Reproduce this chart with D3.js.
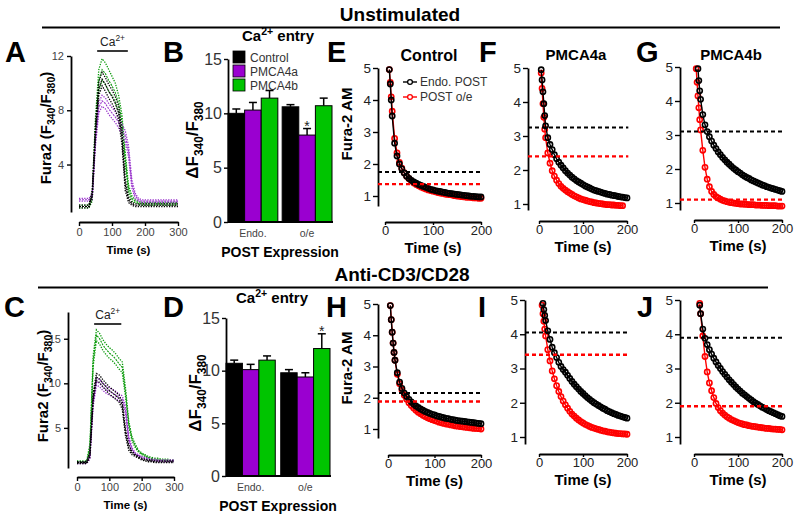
<!DOCTYPE html>
<html><head><meta charset="utf-8">
<script src="https://cdn.jsdelivr.net/npm/d3@7"></script>
<style>body{margin:0;background:#fff}svg{display:block}</style>
</head><body>
<svg id="c" width="800" height="524"></svg>
<script>
// ---------------- DATA ----------------
const traceTime = [0,10,20,30,40,50,60,70,80,90,100,110,120,130,140,150,160,170,180,190,200,210,220,230,240,250,260,270,280,290,300];
const traceTicksX = [0,100,200,300];
const seriesNames = ["Control","PMCA4a","PMCA4b"];
// Panel A (unstimulated) Fura2 ratio traces, mean and SEM
const ctrlA      = [0.9,0.9,0.9,0.9,1.8,6.5,9.6,10.3,9.9,9.4,9.0,8.5,7.8,6.0,2.5,1.4,1.1,1.0,1.0,1.0,1.0,1.0,1.0,1.0,1.0,1.0,1.0,1.0,1.0,1.0,1.0];
const ctrlASem   = [0.1,0.1,0.1,0.1,0.3,0.5,0.5,0.5,0.5,0.5,0.5,0.5,0.5,0.5,0.4,0.2,0.1,0.1,0.1,0.1,0.1,0.1,0.1,0.1,0.1,0.1,0.1,0.1,0.1,0.1,0.1];
const pmca4aA    = [1.4,1.4,1.4,1.4,1.6,5.8,8.2,8.7,8.5,8.1,7.8,7.5,7.1,6.6,6.1,5.0,2.6,1.7,1.4,1.3,1.3,1.3,1.3,1.3,1.3,1.3,1.3,1.3,1.3,1.3,1.3];
const pmca4aASem = [0.1,0.1,0.1,0.1,0.2,0.4,0.4,0.4,0.4,0.4,0.4,0.4,0.4,0.4,0.4,0.4,0.3,0.2,0.1,0.1,0.1,0.1,0.1,0.1,0.1,0.1,0.1,0.1,0.1,0.1,0.1];
const pmca4bA    = [0.9,0.9,0.9,0.9,1.6,6.8,10.2,11.0,10.7,10.2,9.8,9.3,8.5,7.2,4.5,2.2,1.5,1.3,1.2,1.1,1.1,1.1,1.1,1.1,1.1,1.1,1.1,1.1,1.1,1.1,1.1];
const pmca4bASem = [0.1,0.1,0.1,0.1,0.3,0.7,0.8,0.8,0.8,0.8,0.7,0.7,0.6,0.5,0.4,0.3,0.2,0.1,0.1,0.1,0.1,0.1,0.1,0.1,0.1,0.1,0.1,0.1,0.1,0.1,0.1];
// Panel C (anti-CD3/CD28)
const ctrlC      = [1.1,1.1,1.1,1.1,2.0,8.5,10.7,10.5,10.0,9.6,9.2,8.9,8.6,8.3,7.5,4.5,2.8,2.2,1.9,1.7,1.5,1.4,1.3,1.3,1.2,1.2,1.2,1.2,1.2,1.2,1.2];
const ctrlCSem   = [0.1,0.1,0.1,0.1,0.3,0.4,0.4,0.4,0.4,0.4,0.4,0.4,0.4,0.4,0.4,0.4,0.3,0.2,0.1,0.1,0.1,0.1,0.1,0.1,0.1,0.1,0.1,0.1,0.1,0.1,0.1];
const pmca4aC    = [1.1,1.1,1.1,1.1,1.8,7.8,10.2,10.0,9.6,9.3,9.1,8.9,8.7,8.4,8.2,7.0,3.8,2.6,2.1,1.9,1.7,1.6,1.5,1.4,1.4,1.3,1.3,1.3,1.3,1.3,1.3];
const pmca4aCSem = [0.1,0.1,0.1,0.1,0.3,0.4,0.4,0.4,0.4,0.4,0.4,0.4,0.4,0.4,0.4,0.4,0.3,0.2,0.1,0.1,0.1,0.1,0.1,0.1,0.1,0.1,0.1,0.1,0.1,0.1,0.1];
const pmca4bC    = [1.2,1.2,1.2,1.2,2.8,12.5,15.4,15.0,14.3,13.8,13.4,13.1,12.7,12.2,11.8,9.0,5.5,3.8,3.0,2.4,2.1,1.9,1.7,1.6,1.5,1.5,1.4,1.4,1.4,1.3,1.3];
const pmca4bCSem = [0.1,0.1,0.1,0.1,0.4,0.6,0.6,0.6,0.6,0.6,0.6,0.6,0.6,0.6,0.6,0.5,0.3,0.2,0.2,0.1,0.1,0.1,0.1,0.1,0.1,0.1,0.1,0.1,0.1,0.1,0.1];

// Panels B, D: Ca2+ entry bars
const barGroups = ["Endo.","o/e"];
const entryUnstim    = [[10.0,10.3,11.4],[10.6,8.0,10.7]];
const entryUnstimErr = [[0.4,0.7,0.7],[0.2,0.6,0.7]];
const entryUnstimSig = [["","",""],["","*",""]];
const entryStim      = [[10.7,10.1,11.0],[9.8,9.4,12.1]];
const entryStimErr   = [[0.3,0.5,0.4],[0.3,0.4,1.4]];
const entryStimSig   = [["","",""],["","","*"]];
const barTicks = [0,5,10,15];

// Panels E-J: Fura-2 AM decay
const decayTime = [5,7,9,11,13,15,20,25,30,35,40,45,50,55,60,65,70,75,80,85,90,95,100,105,110,115,120,125,130,135,140,145,150,155,160,165,170,175,180,185,190,195,200];
const decayTicksY = [1,2,3,4,5];
const decayTicksX = [0,100,200];
const eEndo = [null,null,4.95,4.5,4.0,3.5,2.65,2.25,2.0,1.85,1.72,1.62,1.55,1.49,1.44,1.4,1.36,1.33,1.3,1.27,1.24,1.21,1.19,1.17,1.15,1.14,1.12,1.11,1.09,1.08,1.07,1.06,1.05,1.04,1.03,1.02,1.01,1.0,0.99,0.99,0.98,0.97,0.97];
const eOe   = [null,null,4.95,4.55,4.1,3.65,2.8,2.35,2.05,1.87,1.73,1.62,1.54,1.47,1.41,1.36,1.32,1.28,1.25,1.22,1.19,1.17,1.15,1.13,1.11,1.09,1.08,1.06,1.05,1.04,1.03,1.01,1.0,0.99,0.98,0.97,0.96,0.96,0.95,0.94,0.94,0.93,0.93];
const fEndo = [4.95,4.65,4.3,3.95,3.6,3.3,2.95,2.75,2.6,2.45,2.33,2.23,2.14,2.06,1.98,1.91,1.85,1.79,1.74,1.69,1.65,1.61,1.57,1.53,1.5,1.47,1.44,1.41,1.39,1.37,1.35,1.33,1.31,1.29,1.28,1.26,1.25,1.24,1.22,1.21,1.2,1.19,1.18];
const fOe   = [4.85,4.4,3.95,3.55,3.2,2.95,2.5,2.2,1.98,1.82,1.7,1.6,1.52,1.46,1.41,1.36,1.32,1.28,1.24,1.21,1.18,1.15,1.13,1.11,1.09,1.07,1.06,1.04,1.03,1.02,1.01,1.0,0.99,0.98,0.98,0.97,0.97,0.96,0.96,0.95,0.95,null,null];
const gEndo = [null,null,4.95,4.6,4.3,4.05,3.6,3.3,3.1,2.95,2.82,2.7,2.6,2.5,2.42,2.34,2.27,2.2,2.14,2.08,2.02,1.97,1.92,1.88,1.83,1.79,1.75,1.72,1.68,1.65,1.62,1.59,1.56,1.53,1.51,1.48,1.46,1.44,1.42,1.4,1.38,1.36,1.34];
const gOe   = [4.95,4.55,4.15,3.8,3.45,3.15,2.55,2.05,1.7,1.48,1.34,1.25,1.19,1.15,1.11,1.08,1.06,1.04,1.02,1.01,1.0,0.99,0.98,0.97,0.97,0.96,0.96,0.95,0.95,0.95,0.94,0.94,0.94,0.93,0.93,0.93,0.92,0.92,0.92,0.92,0.91,0.91,0.91];
const hEndo = [4.95,4.5,4.1,3.75,3.45,3.2,2.8,2.5,2.3,2.15,2.04,1.95,1.87,1.8,1.74,1.69,1.64,1.6,1.56,1.53,1.5,1.47,1.45,1.42,1.4,1.38,1.36,1.34,1.33,1.31,1.3,1.28,1.27,1.26,1.25,1.24,1.23,1.22,1.21,1.2,1.19,1.18,1.17];
const hOe   = [4.95,4.5,4.1,3.75,3.45,3.2,2.75,2.45,2.25,2.08,1.95,1.84,1.75,1.67,1.6,1.54,1.49,1.44,1.4,1.36,1.33,1.3,1.27,1.25,1.22,1.2,1.18,1.16,1.15,1.13,1.12,1.1,1.09,1.08,1.07,1.06,1.05,1.04,1.03,1.02,1.02,1.01,1.0];
const iEndo = [null,null,4.9,4.72,4.55,4.4,4.1,3.85,3.62,3.46,3.32,3.18,3.06,2.97,2.89,2.8,2.71,2.62,2.54,2.47,2.4,2.33,2.27,2.21,2.15,2.1,2.05,2.0,1.96,1.92,1.88,1.84,1.81,1.77,1.74,1.71,1.68,1.66,1.63,1.61,1.59,1.57,1.55];
const iOe   = [null,4.85,4.6,4.38,4.15,3.95,3.55,3.22,2.93,2.7,2.5,2.33,2.18,2.05,1.94,1.84,1.75,1.67,1.61,1.55,1.5,1.45,1.41,1.37,1.34,1.31,1.28,1.26,1.24,1.22,1.2,1.18,1.17,1.15,1.14,1.13,1.12,1.11,1.1,1.1,1.09,1.09,1.08];
const jEndo = [null,null,null,null,4.85,4.6,4.15,3.88,3.7,3.55,3.42,3.3,3.19,3.09,3.0,2.91,2.83,2.75,2.67,2.6,2.53,2.46,2.4,2.34,2.28,2.23,2.18,2.13,2.08,2.03,1.99,1.95,1.91,1.87,1.84,1.8,1.77,1.74,1.71,1.68,1.65,1.62,1.6];
const jOe   = [null,null,null,null,4.9,4.6,3.95,3.35,2.9,2.58,2.35,2.15,1.98,1.86,1.77,1.7,1.64,1.59,1.55,1.51,1.48,1.45,1.42,1.4,1.38,1.36,1.35,1.33,1.32,1.31,1.3,1.29,1.28,1.27,1.26,1.25,1.25,1.24,1.23,1.23,1.22,1.22,1.21];
// plateau (dashed) levels: [Endo. POST, POST o/e]
const plateauE = [1.75,1.37], plateauF = [3.25,2.4], plateauG = [3.1,1.1];
const plateauH = [2.15,1.88], plateauI = [4.05,3.4], plateauJ = [3.9,1.9];
const decayLegend = ["Endo. POST","POST o/e"];

// ---------------- DRAWING ----------------
const FONT = "'Liberation Sans', Arial, Helvetica, sans-serif";
const svg = d3.select("#c").attr("font-family", FONT);
const COL = {Control:"#000000", PMCA4a:"#9a00d0", PMCA4b:"#00c400"};
const LINECOL = {Control:"#000000", PMCA4a:"#9933cc", PMCA4b:"#0a9a0a"};

function rich(sel, parts, size) {
  parts.forEach(p => {
    const t = sel.append("tspan").text(p[0]);
    if (p[1] === "sub") t.attr("font-size", size*0.7).attr("dy", size*0.28);
    else if (p[1] === "sup") t.attr("font-size", size*0.7).attr("dy", -size*0.4);
    else if (p[1] === "base") t.attr("dy", p[2]);
  });
  return sel;
}
function styleAxis(g, color, size) {
  g.selectAll("path.domain").attr("stroke","#000").attr("stroke-width",1.8);
  g.selectAll(".tick line").attr("stroke","#000").attr("stroke-width",1.4);
  g.selectAll(".tick text").attr("fill",color).attr("font-size",size).attr("font-family",FONT);
}
function txt(x,y,s,size,opt={}) {
  return svg.append("text").attr("x",x).attr("y",y).text(s)
    .attr("font-size",size).attr("font-weight",opt.bold?"bold":"normal")
    .attr("text-anchor",opt.anchor||"start").attr("fill",opt.fill||"#000");
}

// Headers
txt(400,21,"Unstimulated",19,{bold:true,anchor:"middle"});
svg.append("line").attr("x1",42).attr("x2",780).attr("y1",27.5).attr("y2",27.5).attr("stroke","#000").attr("stroke-width",2);
txt(402,281,"Anti-CD3/CD28",19,{bold:true,anchor:"middle"});
svg.append("line").attr("x1",38).attr("x2",768).attr("y1",287.5).attr("y2",287.5).attr("stroke","#000").attr("stroke-width",2);

// Panel letters
[["A",5,62],["B",163,62],["E",327,62],["F",479,62],["G",636,62],
 ["C",4,317],["D",163,317],["H",326,317],["I",478,317],["J",637,317]]
 .forEach(d => txt(d[1],d[2],d[0],29,{bold:true}));

// ---- Trace panels (A, C)
function tracePanel(cfg, traces) {
  const g = svg.append("g");
  const x = d3.scaleLinear().domain([0,300]).range([cfg.x0, cfg.x300]);
  const y = d3.scaleLinear().domain(cfg.yDom).range([cfg.yBot, cfg.yTop]);
  g.append("g").attr("transform",`translate(${cfg.yAxisX},0)`)
    .call(d3.axisLeft(y).tickValues(cfg.yTicks).tickSize(4).tickSizeOuter(0).tickPadding(3))
    .call(a=>styleAxis(a,"#444",11));
  g.append("g").attr("transform",`translate(0,${cfg.xAxisY})`)
    .call(d3.axisBottom(x).tickValues(traceTicksX).tickSize(4).tickSizeOuter(0).tickPadding(2))
    .call(a=>styleAxis(a,"#444",11));
  traces.forEach(tr => {
    const c = LINECOL[tr.name];
    const mk = (f) => d3.line().x((d,i)=>x(traceTime[i])).y((d,i)=>y(f(i)));
    [[i=>tr.mean[i]+tr.sem[i]],[i=>tr.mean[i]-tr.sem[i]]].forEach(f=>{
      g.append("path").attr("d", mk(f[0])(traceTime)).attr("fill","none").attr("stroke",c)
        .attr("stroke-width",1.3).attr("stroke-dasharray","1.3,1.3");
    });
    g.append("path").attr("d", mk(i=>tr.mean[i])(traceTime)).attr("fill","none").attr("stroke",c)
      .attr("stroke-width",1.1).attr("stroke-dasharray","2,1");
  });
  // Ca2+ bar
  g.append("line").attr("x1",x(cfg.ca[0])).attr("x2",x(cfg.ca[1])).attr("y1",cfg.caY).attr("y2",cfg.caY)
    .attr("stroke","#222").attr("stroke-width",1.8);
  const ct = g.append("text").attr("x",(x(cfg.ca[0])+x(cfg.ca[1]))/2).attr("y",cfg.caY-5)
    .attr("text-anchor","middle").attr("font-size",12).attr("fill","#222");
  rich(ct,[["Ca"],["2+","sup"]],12);
  // axis titles
  g.append("text").attr("x",(cfg.x0+cfg.x300)/2).attr("y",cfg.xAxisY+32).attr("text-anchor","middle")
    .attr("font-size",11.5).attr("font-weight","bold").text("Time (s)");
  const yl = g.append("text").attr("transform",`translate(${cfg.yLabX},${cfg.yLabY}) rotate(-90)`)
    .attr("text-anchor","middle").attr("font-size",15).attr("font-weight","bold");
  rich(yl,[["Fura2 (F"],["340","sub"],["/F","base",-4.2],["380","sub"],[")","base",-4.2]],15);
}
tracePanel({x0:79,x300:178,yDom:[0.5,12],yBot:212,yTop:56,yTicks:[4,8,12],yAxisX:71,xAxisY:222,
  ca:[55,148],caY:51,yLabX:51,yLabY:128},
  [{name:"PMCA4b",mean:pmca4bA,sem:pmca4bASem},{name:"PMCA4a",mean:pmca4aA,sem:pmca4aASem},{name:"Control",mean:ctrlA,sem:ctrlASem}]);
tracePanel({x0:77,x300:174,yDom:[0.5,18],yBot:468,yTop:312,yTicks:[5,10,15],yAxisX:68,xAxisY:477,
  ca:[53,137],caY:324,yLabX:48,yLabY:386},
  [{name:"PMCA4b",mean:pmca4bC,sem:pmca4bCSem},{name:"PMCA4a",mean:pmca4aC,sem:pmca4aCSem},{name:"Control",mean:ctrlC,sem:ctrlCSem}]);

// ---- Bar panels (B, D)
function barPanel(cfg, vals, errs, sig, legend) {
  const g = svg.append("g");
  const x0 = d3.scaleBand().domain(barGroups).range([cfg.x0,cfg.x1]).paddingInner(cfg.pad).paddingOuter(0);
  const x1 = d3.scaleBand().domain(seriesNames).range([0,x0.bandwidth()]);
  const y = d3.scaleLinear().domain([0,15]).range([cfg.y0,cfg.y15]);
  barGroups.forEach((gr,gi) => {
    seriesNames.forEach((s,si) => {
      const bx = x0(gr)+x1(s), v = vals[gi][si], e = errs[gi][si];
      const cx = bx + x1.bandwidth()/2;
      g.append("line").attr("x1",cx).attr("x2",cx).attr("y1",y(v)).attr("y2",y(v+e)).attr("stroke","#000").attr("stroke-width",1.5);
      g.append("line").attr("x1",cx-4).attr("x2",cx+4).attr("y1",y(v+e)).attr("y2",y(v+e)).attr("stroke","#000").attr("stroke-width",1.5);
      g.append("rect").attr("x",bx).attr("y",y(v)).attr("width",x1.bandwidth()).attr("height",y(0)-y(v))
        .attr("fill",COL[s]).attr("stroke","#000").attr("stroke-width",1);
      if (sig[gi][si]) g.append("text").attr("x",cx).attr("y",y(v+e)+2).attr("text-anchor","middle")
        .attr("font-size",14).attr("fill","#222").text(sig[gi][si]);
    });
  });
  g.append("g").attr("transform",`translate(${cfg.x0},0)`)
    .call(d3.axisLeft(y).tickValues(barTicks).tickSize(4).tickSizeOuter(0).tickPadding(2))
    .call(a=>styleAxis(a,"#333",16));
  g.append("line").attr("x1",cfg.x0).attr("x2",cfg.x1+1).attr("y1",cfg.y0).attr("y2",cfg.y0).attr("stroke","#000").attr("stroke-width",1.8);
  barGroups.forEach(gr => g.append("text").attr("x",x0(gr)+x0.bandwidth()/2).attr("y",cfg.y0+15)
    .attr("text-anchor","middle").attr("font-size",10.5).attr("fill","#444").text(gr));
  g.append("text").attr("x",(cfg.x0+cfg.x1)/2).attr("y",cfg.y0+35).attr("text-anchor","middle")
    .attr("font-size",14).attr("font-weight","bold").text("POST Expression");
  const t = g.append("text").attr("x",cfg.titleX).attr("y",cfg.titleY).attr("text-anchor","middle")
    .attr("font-size",15).attr("font-weight","bold");
  rich(t,[["Ca"],["2+","sup"],[" entry","base",6]],15);
  const yl = g.append("text").attr("transform",`translate(${cfg.yLabX},${cfg.yLabY}) rotate(-90)`)
    .attr("text-anchor","middle").attr("font-size",17).attr("font-weight","bold");
  rich(yl,[["\u0394F"],["340","sub"],["/F","base",-4.8],["380","sub"]],17);
  if (legend) {
    seriesNames.forEach((s,i) => {
      const ly = cfg.legY + i*14;
      g.append("rect").attr("x",cfg.legX).attr("y",ly-6).attr("width",12).attr("height",12)
        .attr("fill",COL[s]).attr("stroke","#000").attr("stroke-width",0.8);
      g.append("text").attr("x",cfg.legX+17).attr("y",ly+4.5).attr("font-size",12).attr("fill","#333").text(s);
    });
  }
}
barPanel({x0:228,x1:332,pad:0.08,y0:222,y15:59,titleX:278,titleY:41,yLabX:198,yLabY:140,legX:233,legY:57},
  entryUnstim, entryUnstimErr, entryUnstimSig, true);
barPanel({x0:226,x1:330,pad:0.1,y0:476,y15:318,titleX:272,titleY:303,yLabX:201,yLabY:393},
  entryStim, entryStimErr, entryStimSig, false);

// ---- Decay panels (E-J)
function decayPanel(cfg, endo, oe, plateau) {
  const g = svg.append("g");
  const y = d3.scaleLinear().domain([1,5]).range([cfg.y1,cfg.y5]);
  const lo = y.invert(cfg.yBot);
  y.domain([lo,5]).range([cfg.yBot,cfg.y5]);
  const x = d3.scaleLinear().domain([0,200]).range([cfg.xt0,cfg.xt200]);
  g.append("g").attr("transform",`translate(${cfg.yAxisX},0)`)
    .call(d3.axisLeft(y).tickValues(decayTicksY).tickFormat(d3.format("d")).tickSize(5).tickSizeOuter(0).tickPadding(2))
    .call(a=>styleAxis(a,"#222",13.5));
  g.append("g").attr("transform",`translate(0,${cfg.xAxisY})`)
    .call(d3.axisBottom(x).tickValues(decayTicksX).tickSize(3).tickSizeOuter(0).tickPadding(1))
    .call(a=>styleAxis(a,"#222",13));
  g.append("text").attr("x",(cfg.xt0+cfg.xt200)/2).attr("y",cfg.xAxisY+31).attr("text-anchor","middle")
    .attr("font-size",15).attr("font-weight","bold").text("Time (s)");
  const series = [{v:oe,c:"#ff0000"},{v:endo,c:"#000000"}];
  series.forEach(s => {
    const pts = decayTime.map((t,i)=>[t,s.v[i]]).filter(d=>d[1]!==null);
    g.append("path").attr("d",d3.line().x(d=>x(d[0])).y(d=>y(d[1]))(pts))
      .attr("fill","none").attr("stroke",s.c).attr("stroke-width",1.4);
    g.selectAll(null).data(pts).join("circle").attr("cx",d=>x(d[0])).attr("cy",d=>y(d[1])).attr("r",2.6)
      .attr("fill","none").attr("stroke",s.c).attr("stroke-width",1.6);
  });
  // plateau lines
  g.append("line").attr("x1",cfg.yAxisX).attr("x2",x(203)).attr("y1",y(plateau[0])).attr("y2",y(plateau[0]))
    .attr("stroke","#000").attr("stroke-width",2).attr("stroke-dasharray","4,3");
  g.append("line").attr("x1",cfg.yAxisX).attr("x2",x(203)).attr("y1",y(plateau[1])).attr("y2",y(plateau[1]))
    .attr("stroke","#ff0000").attr("stroke-width",2.4).attr("stroke-dasharray","4,3");
  if (cfg.title) g.append("text").attr("x",cfg.titleX).attr("y",cfg.titleY).attr("text-anchor","middle")
    .attr("font-size",cfg.titleSize).attr("font-weight","bold").text(cfg.title);
  if (cfg.yLab) g.append("text").attr("transform",`translate(${cfg.yLabX},${cfg.yLabY}) rotate(-90)`)
    .attr("text-anchor","middle").attr("font-size",15).attr("font-weight","bold").text("Fura-2 AM");
  if (cfg.legend) {
    [["#000000",82],["#ff0000",97]].forEach((d,i)=>{
      g.append("line").attr("x1",403).attr("x2",417).attr("y1",d[1]).attr("y2",d[1]).attr("stroke",d[0]).attr("stroke-width",1.4);
      g.append("circle").attr("cx",410).attr("cy",d[1]).attr("r",2.4).attr("fill","#fff").attr("stroke",d[0]).attr("stroke-width",1.3);
      g.append("text").attr("x",420).attr("y",d[1]+4).attr("font-size",12).attr("fill","#333").text(decayLegend[i]);
    });
  }
}
decayPanel({yAxisX:378,y5:68,y1:196,yBot:206,xAxisY:222,xt0:385,xt200:481,title:"Control",titleX:429,titleY:61,titleSize:16,
  yLab:true,yLabX:352,yLabY:124,legend:true}, eEndo, eOe, plateauE);
decayPanel({yAxisX:528,y5:68,y1:204,yBot:210,xAxisY:221,xt0:539,xt200:627,title:"PMCA4a",titleX:576,titleY:60,titleSize:15},
  fEndo, fOe, plateauF);
decayPanel({yAxisX:680,y5:67,y1:203,yBot:210,xAxisY:220,xt0:694,xt200:782,title:"PMCA4b",titleX:731,titleY:60,titleSize:15},
  gEndo, gOe, plateauG);
decayPanel({yAxisX:378,y5:304,y1:429,yBot:438,xAxisY:455,xt0:388,xt200:481,yLab:true,yLabX:352,yLabY:368},
  hEndo, hOe, plateauH);
decayPanel({yAxisX:525,y5:300,y1:437,yBot:444,xAxisY:454,xt0:539,xt200:627}, iEndo, iOe, plateauI);
decayPanel({yAxisX:680,y5:300,y1:437,yBot:444,xAxisY:454,xt0:694,xt200:782}, jEndo, jOe, plateauJ);
</script>
</body></html>
